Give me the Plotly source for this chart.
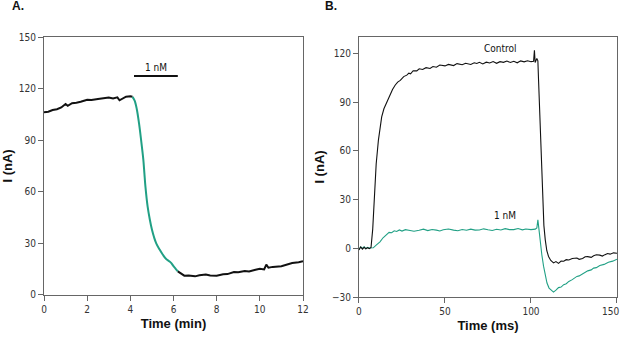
import plotly.graph_objects as go

# ---------------- Panel A data (time in min, current in nA) ----------------
a_pre_t = [0, 0.2, 0.4, 0.6, 0.8, 1.0, 1.1, 1.3, 1.5, 1.7, 2.0, 2.2, 2.5, 2.7, 3.0, 3.2, 3.4, 3.5, 3.6, 3.8, 4.0, 4.1]
a_pre_v = [106.3, 106.5, 107.5, 108, 109, 111, 110, 111.5, 111.8, 112.3, 113.5, 113.3, 114, 114.2, 114.8, 114.2, 114.9, 113.2, 113.8, 115.3, 115.5, 115.2]
a_drug_t = [4.1, 4.2, 4.3, 4.4, 4.5, 4.6, 4.65, 4.7, 4.8, 4.9, 5.0, 5.1, 5.2, 5.35, 5.5, 5.65, 5.8, 5.9, 6.0, 6.1, 6.2]
a_drug_v = [115.2, 113, 108, 100, 90, 79, 71, 63, 51.5, 44, 38, 33.5, 30, 26.5, 23.5, 21, 19.6, 18.5, 16.7, 15.2, 13.7]
a_post_t = [6.2, 6.35, 6.5, 6.7, 7.0, 7.2, 7.5, 7.7, 8.0, 8.3, 8.5, 8.8, 9.0, 9.3, 9.5, 9.8, 10.0, 10.2, 10.3, 10.4, 10.6, 11.0, 11.3, 11.5, 11.8, 12.0]
a_post_v = [13.7, 12.2, 11.2, 11.3, 10.8, 11.4, 11.8, 11.3, 11.2, 12.0, 12.1, 13.3, 13.2, 13.9, 13.6, 14.6, 15.2, 14.8, 17.6, 15.8, 16.3, 16.7, 17.6, 18.6, 19.0, 19.6]
a_bar_t = [4.17, 6.2]
a_bar_v = [127.3, 127.3]
a_xticks = [0, 2, 4, 6, 8, 10, 12]
a_yticks = [0, 30, 60, 90, 120, 150]

# ---------------- Panel B data (time in ms, current in nA) ----------------
b_ctrl_t = [0, 1, 2, 3, 4, 5, 6, 7, 8, 9, 10, 11.3, 12.2, 13.2, 14.5, 16.1, 18, 19.5, 21, 22.5, 24, 26, 27.8, 29, 30, 31.5, 33.6, 35, 37, 39, 41.3, 43, 45, 47, 50, 52, 55, 57, 60, 62, 65, 67, 68.5, 70, 72, 74, 76, 78, 80, 82, 84, 86, 88, 90, 92, 94, 96, 98, 100, 101.5, 102, 102.4, 103.4, 104, 104.4, 105.4, 106.7, 107.5, 108.3, 109.2, 110.2, 111.5, 113.1, 114.5, 116, 117.5, 119, 120.5, 122, 124, 126.7, 128, 130, 131.5, 133, 135, 136.4, 138, 140, 141.5, 143, 144.5, 146, 148, 150]
b_ctrl_v = [-1, 0.8, -0.5, 0.6, -0.3, 0.4, -0.2, 0.5, 12, 35, 52, 66.7, 75, 81, 86, 90, 94.5, 97.8, 100.5, 102.4, 103.5, 105.8, 106.7, 107.9, 107.5, 109.4, 109.3, 110.6, 110.2, 111.3, 110.8, 112.0, 111.6, 112.9, 112.4, 113.3, 112.6, 113.8, 113.1, 114.0, 113.3, 114.3, 113.9, 114.6, 113.6, 114.7, 114.2, 115.1, 114.0, 115.0, 114.6, 115.4, 114.5, 115.2, 114.3, 115.5, 114.9, 115.6, 115.0, 115.2, 122, 114.5, 117, 115.5, 103.6, 70.8, 30, 14, 5.2, -1.5, -5, -7.5, -9, -8.2, -9.3, -7.9, -8, -7.0, -7.2, -6.3, -6, -6.8, -6.3, -5.2, -5.1, -5.6, -4.6, -4.0, -4.2, -4.8, -3.9, -3.2, -3.6, -2.8, -3]
b_drug_t = [0, 1, 2, 3, 4, 5, 6, 7, 8.3, 10, 12.2, 14, 16.1, 17.5, 19, 20.5, 21.9, 23.5, 25, 27, 29.7, 32, 35, 37.5, 40, 42.5, 45, 47, 49, 52, 55, 57.5, 60, 62.5, 65, 67.5, 70, 72.5, 75, 77.5, 80, 82.5, 85, 87.5, 90, 92.5, 95, 97, 100, 102.5, 103.4, 104, 104.6, 105.4, 106.3, 107.3, 108.3, 109.3, 110.5, 112.2, 113.1, 114.5, 116, 117.5, 119, 120.5, 122, 124, 126.7, 128, 130, 131.5, 133, 135, 136.4, 138, 140, 142.5, 145, 147.5, 150]
b_drug_v = [-0.5, 0.8, 0, 1, -0.2, 0.6, 0.2, 0.4, 0.3, 2.0, 4, 6.5, 8.3, 9.8, 9.6, 10.8, 10.4, 11.3, 10.6, 11.5, 11, 10.5, 11.1, 11.8, 10.9, 11.6, 11.2, 10.7, 11.4, 11.9, 11.2, 10.8, 11.6, 11.1, 11.8, 11.2, 11.3, 12.0, 11.4, 11.0, 11.7, 11.3, 12.1, 11.5, 11.5, 12.2, 11.4, 11.9, 11.5, 11.8, 12.5, 17.5, 12, 3.2, -4, -11, -16.5, -21.4, -24.5, -26.5, -27, -25.8, -24.2, -23.9, -22.4, -21.8, -20.4, -19.3, -17.3, -17.0, -15.6, -14.9, -13.9, -13.3, -12.2, -11.9, -10.6, -9.9, -8.6, -7.9, -6.7]
b_xticks = [0, 50, 100, 150]
b_yticks = [-30, 0, 30, 60, 90, 120]

BLACK = "#111111"
TEAL = "#21a085"
FRAME = "#666666"
NARROW = "DejaVu Sans Condensed, Liberation Sans Narrow, Arial Narrow, Liberation Sans"
TICKFONT = dict(family=NARROW, size=10, color="#333333")
TITLEFONT = dict(family="Liberation Sans, Arial", size=13, color="#111111")

fig = go.Figure()

# Panel A
fig.add_trace(go.Scatter(x=a_pre_t, y=a_pre_v, mode="lines", line=dict(color=BLACK, width=2), xaxis="x", yaxis="y", showlegend=False))
fig.add_trace(go.Scatter(x=a_drug_t, y=a_drug_v, mode="lines", line=dict(color=TEAL, width=2, shape="spline"), xaxis="x", yaxis="y", showlegend=False))
fig.add_trace(go.Scatter(x=a_post_t, y=a_post_v, mode="lines", line=dict(color=BLACK, width=2), xaxis="x", yaxis="y", showlegend=False))
fig.add_trace(go.Scatter(x=a_bar_t, y=a_bar_v, mode="lines", line=dict(color=BLACK, width=2), xaxis="x", yaxis="y", showlegend=False))

# Panel B
fig.add_trace(go.Scatter(x=b_drug_t, y=b_drug_v, mode="lines", line=dict(color=TEAL, width=1.1), xaxis="x2", yaxis="y2", showlegend=False))
fig.add_trace(go.Scatter(x=b_ctrl_t, y=b_ctrl_v, mode="lines", line=dict(color=BLACK, width=1.1), xaxis="x2", yaxis="y2", showlegend=False))

axis_common = dict(showline=True, linecolor=FRAME, linewidth=1, mirror=True, ticks="outside",
                   ticklen=5, tickcolor=FRAME, showgrid=False, zeroline=False, tickfont=TICKFONT,
                   title_font=TITLEFONT, automargin=False)

# last x tick label of panel B sits at the window edge: draw it as right-anchored text
b_xticktext = [str(v) for v in b_xticks[:-1]] + [""]

fig.update_layout(
    width=622, height=340,
    margin=dict(l=44, r=5, t=37, b=43),
    plot_bgcolor="white", paper_bgcolor="white",
    xaxis=dict(domain=[0, 0.452], range=[0, 12], tickvals=a_xticks,
               title=dict(text="<b>Time (min)</b>", standoff=4), anchor="y", **axis_common),
    yaxis=dict(domain=[0.008, 1], range=[0, 150], tickvals=a_yticks,
               title=dict(text="<b>I (nA)</b>", standoff=4), anchor="x", **axis_common),
    xaxis2=dict(domain=[0.5497, 1], range=[0, 150], tickvals=b_xticks, ticktext=b_xticktext,
                title=dict(text="<b>Time (ms)</b>", standoff=4), anchor="y2", **axis_common),
    yaxis2=dict(domain=[0, 1], range=[-30, 130.2], tickvals=b_yticks,
                title=dict(text="<b>I (nA)</b>", standoff=4), anchor="x2", **axis_common),
    annotations=[
        dict(text="<b>A.</b>", xref="paper", yref="paper", x=-0.0593, y=1.12, xanchor="left", yanchor="middle",
             showarrow=False, font=dict(family="Liberation Sans, Arial", size=12, color="#111111")),
        dict(text="<b>B.</b>", xref="paper", yref="paper", x=0.487, y=1.12, xanchor="left", yanchor="middle",
             showarrow=False, font=dict(family="Liberation Sans, Arial", size=12, color="#111111")),
        dict(text="1 nM", xref="x", yref="y", x=5.2, y=132, showarrow=False, yanchor="middle",
             font=dict(family=NARROW, size=10, color="#111111")),
        dict(text="Control", xref="x2", yref="y2", x=82, y=123, showarrow=False, yanchor="middle",
             font=dict(family=NARROW, size=10, color="#111111")),
        dict(text="1 nM", xref="x2", yref="y2", x=85, y=20, showarrow=False, yanchor="middle",
             font=dict(family=NARROW, size=10, color="#111111")),
        dict(text=str(b_xticks[-1]), xref="x2", yref="paper", x=b_xticks[-1], y=-0.054, xanchor="right",
             yanchor="middle", xshift=4, showarrow=False, font=TICKFONT),
    ],
)

fig.write_html("out.html")
